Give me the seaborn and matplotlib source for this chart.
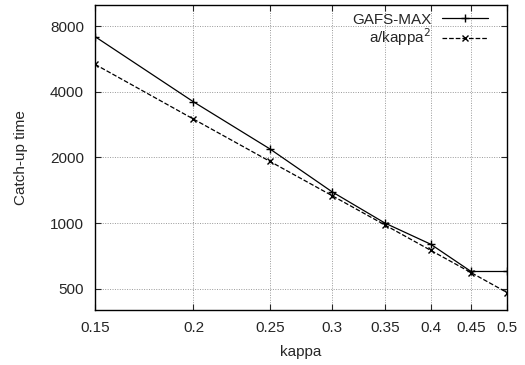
import numpy as np
import pandas as pd
import matplotlib
matplotlib.use("Agg")
import matplotlib.pyplot as plt
import matplotlib.ticker as mticker
import seaborn as sns

# values
kappa = [0.15, 0.2, 0.25, 0.3, 0.35, 0.4, 0.45, 0.5]
gafs_max = [7170, 3600, 2190, 1390, 1000, 800, 600, 600]
a_over_kappa2 = [5350, 3000, 1920, 1335, 980, 750, 593, 480]
x_ticks = [0.15, 0.2, 0.25, 0.3, 0.35, 0.4, 0.45, 0.5]
y_ticks = [500, 1000, 2000, 4000, 8000]

sns.set_style("ticks")
plt.rcParams["font.family"] = ["Liberation Sans", "DejaVu Sans"]
FS = 11

df = pd.DataFrame({"kappa": kappa, "GAFS-MAX": gafs_max, "a/kappa$^2$": a_over_kappa2})

fig = plt.figure(figsize=(5.25, 3.65), dpi=100)
ax = fig.add_axes([0.181, 0.151, 0.785, 0.835])

sns.lineplot(data=df, x="kappa", y="GAFS-MAX", ax=ax, color="black", lw=0.9,
             marker="+", markersize=6, markeredgewidth=1.0,
             markeredgecolor="black", label="GAFS-MAX")
sns.lineplot(data=df, x="kappa", y="a/kappa$^2$", ax=ax, color="black", lw=0.9,
             linestyle="--", dashes=(2.5, 1.5), marker="x", markersize=5,
             markeredgewidth=1.0, markeredgecolor="black", label="a/kappa$^2$")

ax.set_xscale("log")
ax.set_yscale("log")
ax.set_xlim(0.15, 0.5)
ax.set_ylim(400, 10000)
ax.xaxis.set_major_locator(mticker.FixedLocator(x_ticks))
ax.xaxis.set_major_formatter(mticker.FixedFormatter([str(v) for v in x_ticks]))
ax.xaxis.set_minor_locator(mticker.NullLocator())
ax.yaxis.set_major_locator(mticker.FixedLocator(y_ticks))
ax.yaxis.set_major_formatter(mticker.FixedFormatter([str(v) for v in y_ticks]))
ax.yaxis.set_minor_locator(mticker.NullLocator())

ax.grid(True, color="#999999", linestyle=(0, (1, 1.5)), linewidth=0.7)
ax.tick_params(direction="in", length=4, width=0.8, top=True, right=True,
               labelsize=FS, pad=8)
for s in ax.spines.values():
    s.set_linewidth(1.0)
    s.set_color("black")

ax.set_xlabel("kappa", fontsize=FS, labelpad=7)
ax.set_ylabel("Catch-up time", fontsize=FS, labelpad=16)

ax.legend(loc="upper right", bbox_to_anchor=(0.975, 1.005), frameon=False,
          markerfirst=False, fontsize=FS, handlelength=3.0,
          borderaxespad=0.2, labelspacing=0.0, handletextpad=0.7)

fig.savefig("out.png", dpi=100)
